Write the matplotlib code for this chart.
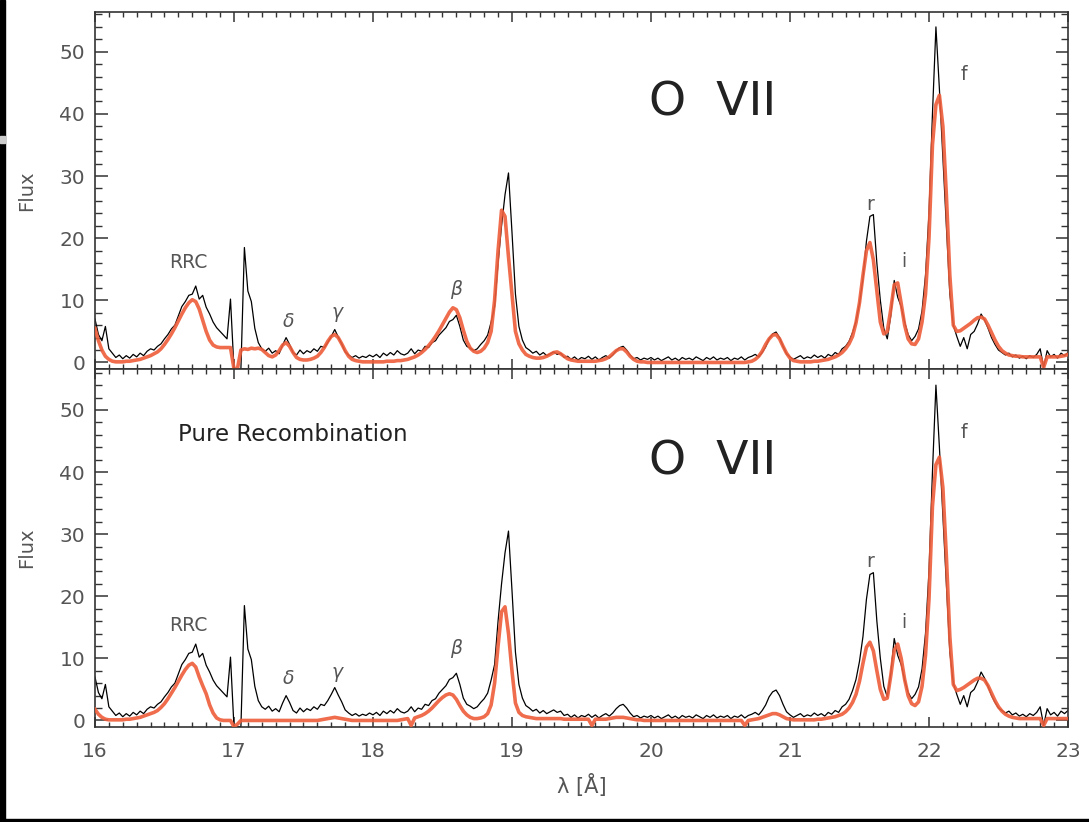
import numpy as np
import matplotlib
matplotlib.use("Agg")
import matplotlib.pyplot as plt
from matplotlib.ticker import MultipleLocator
from matplotlib.patches import Rectangle

# wavelength sampling of the spectra, 0.025 A steps from 16 to 23 A
wave = np.linspace(16.0, 23.0, 281)

# observed O VII spectrum (black), same in both panels
data_flux = [
    7.0, 4.5, 3.5, 5.8, 2.2, 1.5, 0.8, 1.2, 0.6, 1.1, 0.7, 1.3, 0.9, 1.5, 1.1, 1.8, 2.2, 2.0, 2.6, 3.0,
    3.8, 4.5, 5.4, 6.0, 7.5, 9.0, 9.8, 10.8, 11.0, 12.3, 10.2, 10.8, 8.9, 7.8, 6.5, 5.6, 5.0, 4.4, 3.8, 10.2,
    -1.0, -1.0, -1.0, 18.5, 11.5, 9.8, 5.5, 3.2, 2.2, 1.8, 2.3, 1.5, 1.9, 1.4, 2.8, 4.0, 2.9, 1.6, 1.2, 2.0,
    1.4, 1.9, 1.6, 2.2, 1.8, 2.6, 2.4, 3.2, 4.2, 5.3, 4.1, 3.0, 1.7, 1.2, 0.8, 1.1, 0.7, 1.0, 0.8, 1.2,
    0.9, 1.3, 0.8, 1.5, 1.1, 1.6, 1.2, 1.9, 1.4, 1.2, 1.5, 2.2, 1.4, 2.0, 1.8, 2.6, 2.4, 3.2, 3.5, 4.4,
    5.0, 5.6, 6.6, 6.9, 7.6, 5.8, 3.6, 2.6, 2.3, 1.9, 2.2, 2.9, 3.5, 4.4, 6.5, 9.0, 16.0, 22.0, 27.0, 30.5,
    21.0, 11.0, 5.8, 3.6, 2.4, 2.0, 1.5, 1.8, 1.2, 1.6, 1.1, 1.4, 1.7, 1.3, 1.5, 0.8, 1.0, 0.5, 0.9, 0.4,
    0.8, 0.6, 1.0, 0.5, 0.9, 0.4, 0.8, 1.1, 0.7, 1.2, 1.9, 2.4, 2.6, 2.0, 1.2, 0.6, 0.8, 0.4, 0.7, 0.5,
    0.8, 0.4, 0.7, 0.3, 0.6, 0.9, 0.4, 0.7, 0.3, 0.8, 0.5, 0.7, 0.4, 0.9, 0.6, 0.3, 0.8, 0.5, 0.9, 0.4,
    0.7, 0.5, 0.8, 0.3, 0.7, 0.5, 0.9, 0.4, 0.8, 1.0, 1.3, 0.9, 1.6, 2.5, 3.8, 4.6, 4.9, 4.0, 2.6, 1.4,
    0.9, 0.5, 0.8, 1.1, 0.6, 0.9, 0.7, 1.2, 0.8, 1.1, 0.7, 1.3, 1.0, 1.6, 1.3, 2.2, 2.6, 3.4, 4.8, 6.6,
    9.5, 13.5, 19.5, 23.5, 23.8, 16.0, 10.0, 5.5, 3.8, 7.5, 13.2, 10.5, 9.0, 6.5, 4.5, 3.5, 4.2, 5.4, 8.3, 14.0,
    24.0, 40.0, 54.0, 44.0, 33.0, 22.0, 11.0, 6.0, 4.2, 2.6, 4.0, 2.2, 4.5, 5.0, 6.2, 7.8, 6.8, 5.5, 4.0, 2.9,
    2.0, 1.6, 1.2, 1.5, 0.9, 1.2, 0.7, 1.0, 0.6, 1.1, 0.8, 1.3, 2.2, -0.8, 1.9, 0.9, 1.3, 0.7, 1.5, 1.1,
    1.6,
]

# model, upper panel
model_top = [
    5.5, 3.5, 2.0, 1.0, 0.5, 0.2, 0.1, 0.1, 0.1, 0.2, 0.2, 0.3, 0.4, 0.5, 0.7, 0.9, 1.1, 1.4, 1.7, 2.2,
    2.9, 3.7, 4.6, 5.6, 6.7, 7.8, 8.8, 9.6, 10.1, 9.8, 8.6, 6.8, 5.0, 3.6, 2.8, 2.5, 2.4, 2.4, 2.4, 2.4,
    -1.0, -1.0, 2.0, 2.2, 2.1, 2.3, 2.2, 2.3, 2.1, 1.6, 1.1, 0.9, 1.2, 1.9, 2.8, 3.2, 2.6, 1.6, 0.8, 0.5,
    0.4, 0.4, 0.5, 0.7, 1.0, 1.6, 2.4, 3.4, 4.2, 4.5, 4.0, 3.0, 1.9, 1.0, 0.5, 0.3, 0.2, 0.1, 0.1, 0.1,
    0.1, 0.1, 0.1, 0.1, 0.2, 0.2, 0.2, 0.3, 0.3, 0.4, 0.5, 0.7, 0.9, 1.2, 1.6, 2.1, 2.7, 3.4, 4.2, 5.1,
    6.1, 7.1, 8.1, 8.8, 8.5, 7.2, 5.2, 3.4, 2.3, 1.8, 1.6, 1.8, 2.3, 3.2, 5.0, 10.0, 18.0, 24.5, 23.5, 17.0,
    11.0, 5.0, 3.0, 2.0, 1.3, 1.0, 0.8, 0.7, 0.7, 0.8, 1.0, 1.3, 1.6, 1.7, 1.4, 1.0, 0.6, 0.4, 0.3, 0.2,
    0.2, 0.2, 0.2, 0.2, 0.2, 0.3, 0.4, 0.6, 0.9, 1.4, 1.9, 2.2, 2.2, 1.7, 1.0, 0.5, 0.2, 0.1, 0.1, 0.0,
    0.0, 0.0, 0.0, 0.0, 0.0, 0.0, 0.0, 0.0, 0.0, 0.0, 0.0, 0.0, 0.0, 0.0, 0.0, 0.0, 0.0, 0.0, 0.0, 0.0,
    0.0, 0.0, 0.0, 0.0, 0.0, 0.0, 0.0, 0.0, 0.1, 0.2, 0.5, 1.0, 1.8, 2.9, 3.8, 4.4, 4.5, 3.8, 2.6, 1.5,
    0.7, 0.3, 0.2, 0.1, 0.1, 0.1, 0.1, 0.2, 0.2, 0.3, 0.4, 0.5, 0.7, 0.9, 1.2, 1.6, 2.2, 3.0, 4.2, 6.4,
    9.6, 14.0, 18.0, 19.3, 16.5, 11.5, 6.5, 4.6, 5.0, 8.5, 12.5, 12.8, 9.5, 6.0, 3.8, 3.0, 2.9, 3.8, 6.5, 11.0,
    20.0, 35.0, 41.5, 43.0, 38.0, 27.0, 14.0, 6.0, 5.0, 5.1, 5.5, 5.9, 6.3, 6.8, 7.2, 7.3, 7.0, 6.0, 4.8, 3.6,
    2.6, 1.9, 1.5, 1.2, 1.1, 1.0, 1.0, 0.9, 0.9, 0.9, 0.9, 0.9, 0.9, -0.8, 0.9, 0.9, 0.9, 0.9, 1.0, 1.1,
    1.3,
]

# model, lower panel (pure recombination)
model_bot = [
    1.8, 1.0, 0.5, 0.2, 0.1, 0.1, 0.1, 0.1, 0.1, 0.2, 0.2, 0.3, 0.4, 0.5, 0.7, 0.9, 1.1, 1.3, 1.6, 2.1,
    2.7, 3.5, 4.4, 5.3, 6.3, 7.3, 8.2, 8.9, 9.2, 8.6, 7.0, 5.6, 4.3, 2.5, 1.2, 0.4, 0.1, 0.0, 0.0, 0.0,
    -1.0, -0.6, 0.0, 0.0, 0.0, 0.0, 0.0, 0.0, 0.0, 0.0, 0.0, 0.0, 0.0, 0.0, 0.0, 0.0, 0.0, 0.0, 0.0, 0.0,
    0.0, 0.0, 0.0, 0.0, 0.0, 0.1, 0.2, 0.3, 0.4, 0.5, 0.4, 0.3, 0.2, 0.1, 0.0, 0.0, 0.0, 0.0, 0.0, 0.0,
    0.0, 0.0, 0.0, 0.0, 0.0, 0.0, 0.0, 0.0, 0.1, 0.2, 0.3, -0.8, 0.4, 0.6, 0.8, 1.1, 1.5, 2.0, 2.6, 3.2,
    3.7, 4.1, 4.3, 4.1, 3.4, 2.4, 1.5, 0.9, 0.5, 0.3, 0.3, 0.4, 0.6, 1.1, 2.5, 6.0, 12.0, 17.5, 18.3, 14.0,
    8.0, 2.8, 1.3, 0.8, 0.6, 0.5, 0.4, 0.3, 0.3, 0.3, 0.3, 0.3, 0.3, 0.3, 0.3, 0.2, 0.2, 0.2, 0.2, 0.2,
    0.2, 0.2, 0.2, -0.8, 0.2, 0.2, 0.2, 0.2, 0.3, 0.4, 0.5, 0.5, 0.5, 0.4, 0.3, 0.2, 0.1, 0.1, 0.0, 0.0,
    0.0, 0.0, 0.0, 0.0, 0.0, 0.0, 0.0, 0.0, 0.0, 0.0, 0.0, 0.0, 0.0, 0.0, 0.0, 0.0, 0.0, 0.0, 0.0, 0.0,
    0.0, 0.0, 0.0, 0.0, 0.0, 0.0, 0.0, -0.8, 0.0, 0.1, 0.2, 0.3, 0.5, 0.7, 0.9, 1.1, 1.1, 0.9, 0.6, 0.3,
    0.2, 0.1, 0.1, 0.1, 0.1, 0.1, 0.1, 0.1, 0.2, 0.2, 0.3, 0.4, 0.5, 0.6, 0.8, 1.0, 1.4, 2.0, 2.9, 4.2,
    6.3, 9.2, 11.8, 12.6, 11.2, 8.0, 5.0, 3.4, 3.6, 7.2, 11.3, 12.3, 10.0, 6.6, 4.0, 2.7, 2.4, 3.0, 5.5, 10.5,
    19.5, 34.5, 41.2, 42.4, 37.5, 26.5, 13.5, 5.8, 4.8, 5.0, 5.3, 5.7, 6.1, 6.5, 6.8, 6.8, 6.5, 5.6, 4.4, 3.2,
    2.2, 1.5, 1.0, 0.7, 0.5, 0.4, 0.3, 0.3, 0.3, 0.3, 0.3, 0.3, 0.3, -0.8, 0.3, 0.3, 0.3, 0.3, 0.3, 0.3,
    0.3,
]

# line labels: text, wavelength, height in upper panel, height in lower panel
line_names = ["RRC", "δ", "γ", "β", "r", "i", "f"]
line_wave = [16.67, 17.39, 17.74, 18.60, 21.58, 21.82, 22.25]
line_y_top = [16.1, 6.6, 8.0, 11.7, 25.4, 16.2, 46.3]
line_y_bot = [15.3, 6.8, 7.7, 11.6, 25.6, 15.8, 46.3]

xticks = [16, 17, 18, 19, 20, 21, 22, 23]
yticks = [0, 10, 20, 30, 40, 50]

grey = "#555555"
orange = "#ee5d3a"

plt.rcParams["font.family"] = ["DejaVu Sans"]
fig = plt.figure(figsize=(10.89, 8.22), dpi=100)
ax1 = fig.add_axes([0.0872, 0.5511, 0.8935, 0.4343])
ax2 = fig.add_axes([0.0872, 0.1156, 0.8935, 0.4355], sharex=ax1)

for ax, model, ytop, ybot in [(ax1, model_top, line_y_top, 56.4), (ax2, model_bot, line_y_bot, 56.6)]:
    ax.plot(wave, data_flux, color="black", lw=0.9, zorder=2)
    ax.plot(wave, model, color=orange, lw=2.6, alpha=0.9, zorder=3)
    ax.set_xlim(16, 23)
    ax.set_ylim(-1.05, ybot)
    ax.set_xticks(xticks)
    ax.set_yticks(yticks)
    ax.xaxis.set_minor_locator(MultipleLocator(0.1))
    ax.yaxis.set_minor_locator(MultipleLocator(2))
    ax.tick_params(which="both", direction="in", top=True, right=True,
                   colors="#333333", labelcolor=grey, labelsize=14.5)
    ax.tick_params(axis="y", which="major", length=9, width=1.1, pad=7)
    ax.tick_params(axis="y", which="minor", length=5, width=1.0)
    ax.tick_params(axis="x", which="major", length=7, width=1.1, pad=11)
    ax.tick_params(axis="x", which="minor", length=3.5, width=1.0)
    for s in ax.spines.values():
        s.set_color("#333333")
        s.set_linewidth(1.2)
    ax.set_ylabel("Flux", color=grey, fontsize=14, labelpad=17)
    for name, lw_, ly in zip(line_names, line_wave, ytop):
        style = "normal" if name in ("RRC", "r", "i", "f") else "italic"
        ax.text(lw_, ly, name, ha="center", va="center", color=grey,
                fontsize=13.5, style=style)
    ax.text(20.44, 41.7, "O  VII", ha="center", va="center", color="#222222",
            fontsize=34)

ax1.tick_params(axis="x", labelbottom=False)
ax2.text(16.60, 46.0, "Pure Recombination", ha="left", va="center",
         color="#222222", fontsize=16.5)
ax2.set_xlabel("λ [Å]", color=grey, fontsize=15, labelpad=9)

# scan borders of the original page
fig.patches.append(Rectangle((0, 0), 5 / 1089, 1, transform=fig.transFigure,
                             color="black", zorder=0))
fig.patches.append(Rectangle((0, 1 - 143 / 822), 5 / 1089, 7 / 822,
                             transform=fig.transFigure, color="#cccccc", zorder=1))
fig.patches.append(Rectangle((0, 0), 1, 3 / 822, transform=fig.transFigure,
                             color="black", zorder=0))

fig.savefig("out.png", dpi=100)
